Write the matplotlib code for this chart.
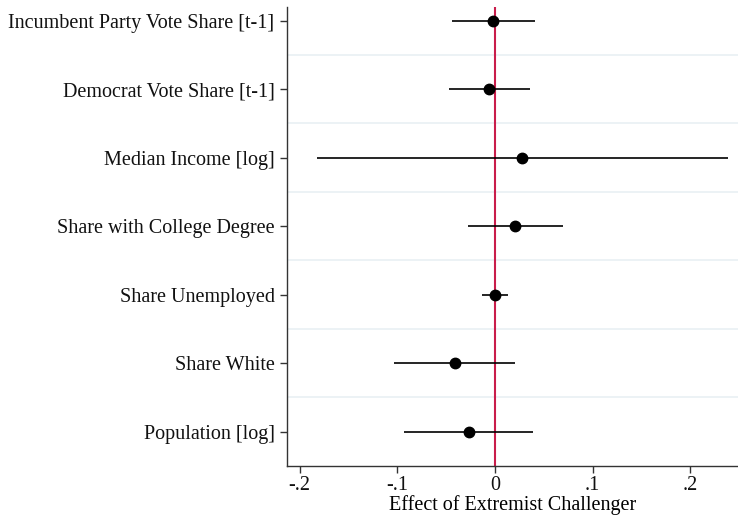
import matplotlib
matplotlib.use("Agg")
import matplotlib.pyplot as plt

plt.rcParams['font.family'] = ['Liberation Serif', 'DejaVu Serif']

# coefficient estimates and 95% CI
labels = ["Incumbent Party Vote Share [t-1]", "Democrat Vote Share [t-1]",
          "Median Income [log]", "Share with College Degree",
          "Share Unemployed", "Share White", "Population [log]"]
coef = [-0.002, -0.006, 0.028, 0.021, 0.000, -0.041, -0.027]
ci_lo = [-0.044, -0.047, -0.182, -0.028, -0.013, -0.103, -0.093]
ci_hi = [0.041, 0.036, 0.238, 0.070, 0.013, 0.021, 0.039]
xticks = [-0.2, -0.1, 0.0, 0.1, 0.2]
xticklabels = ["-.2", "-.1", "0", ".1", ".2"]

ypos = list(range(1, len(labels) + 1))

fig = plt.figure(figsize=(7.38, 5.18), dpi=100)
ax = fig.add_axes([0.3889, 0.1004, 0.6111, 0.8861])

# light horizontal separators between rows
for y in ypos[:-1]:
    ax.axhline(y + 0.5, color="#ebf1f4", lw=1.3, zorder=0)

ax.axvline(0, color="#c91d4b", lw=1.5, zorder=1)
ax.hlines(ypos, ci_lo, ci_hi, color="black", lw=1.2, zorder=2)
ax.plot(coef, ypos, "o", color="black", ms=7.5, zorder=3)

ax.set_ylim(7.5, 0.8)
ax.set_xlim(-0.2128, 0.2487)
ax.set_yticks(ypos)
ax.set_yticklabels(labels, fontsize=14.5)
ax.set_xticks(xticks)
ax.set_xticklabels(xticklabels, fontsize=14.5)
ax.set_xlabel("Effect of Extremist Challenger", fontsize=14.5, labelpad=0)

ax.spines["top"].set_visible(False)
ax.spines["right"].set_visible(False)
for s in ("left", "bottom"):
    ax.spines[s].set_color("#333333")
    ax.spines[s].set_linewidth(1.0)
ax.tick_params(axis="both", length=5, width=1, color="#333333", colors="#111111")
ax.tick_params(axis="y", pad=4)
ax.tick_params(axis="x", pad=2.5)

fig.savefig("out.png", dpi=100)
